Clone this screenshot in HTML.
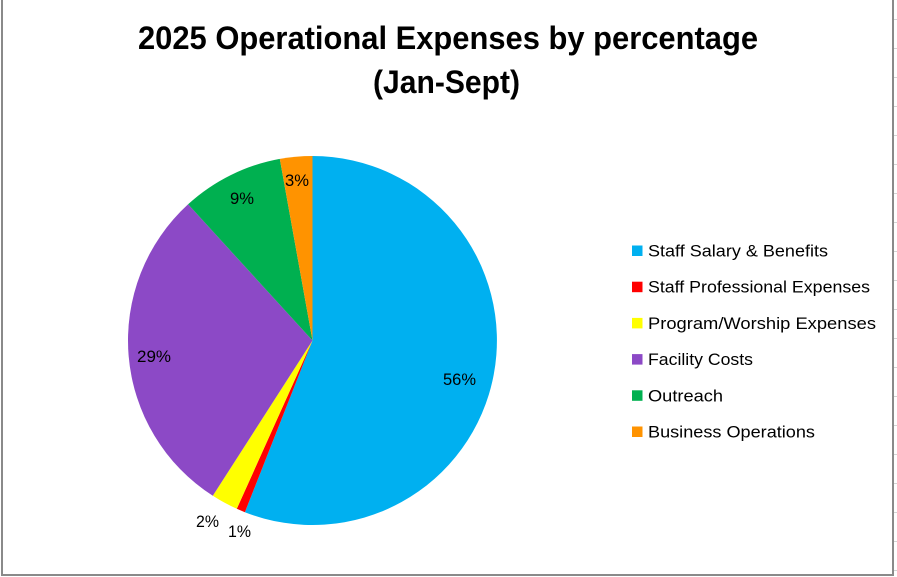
<!DOCTYPE html>
<html>
<head>
<meta charset="utf-8">
<style>
  html, body { margin: 0; padding: 0; background: #ffffff; }
  body { width: 897px; height: 577px; overflow: hidden; }
  svg { display: block; }
  text { font-family: "Liberation Sans", "DejaVu Sans", sans-serif; fill: #000; }
</style>
</head>
<body>
<svg width="897" height="577" viewBox="0 0 897 577" xmlns="http://www.w3.org/2000/svg">
  <rect x="0" y="0" width="897" height="577" fill="#ffffff"/>

  <!-- spreadsheet grid ticks outside right border -->
  <g stroke="#d4d4d4" stroke-width="1">
    <line x1="894" y1="19.5" x2="897" y2="19.5"/>
    <line x1="894" y1="48.5" x2="897" y2="48.5"/>
    <line x1="894" y1="77.5" x2="897" y2="77.5"/>
    <line x1="894" y1="106.5" x2="897" y2="106.5"/>
    <line x1="894" y1="135.5" x2="897" y2="135.5"/>
    <line x1="894" y1="164.5" x2="897" y2="164.5"/>
    <line x1="894" y1="193.5" x2="897" y2="193.5"/>
    <line x1="894" y1="222.5" x2="897" y2="222.5"/>
    <line x1="894" y1="251.5" x2="897" y2="251.5"/>
    <line x1="894" y1="280.5" x2="897" y2="280.5"/>
    <line x1="894" y1="309.5" x2="897" y2="309.5"/>
    <line x1="894" y1="338.5" x2="897" y2="338.5"/>
    <line x1="894" y1="367.5" x2="897" y2="367.5"/>
    <line x1="894" y1="396.5" x2="897" y2="396.5"/>
    <line x1="894" y1="425.5" x2="897" y2="425.5"/>
    <line x1="894" y1="454.5" x2="897" y2="454.5"/>
    <line x1="894" y1="483.5" x2="897" y2="483.5"/>
    <line x1="894" y1="512.5" x2="897" y2="512.5"/>
    <line x1="894" y1="541.5" x2="897" y2="541.5"/>
    <line x1="894" y1="570.5" x2="897" y2="570.5"/>
  </g>

  <!-- chart border -->
  <rect x="1" y="0" width="2" height="576" fill="#8a8a8a"/>
  <rect x="892" y="0" width="2" height="576" fill="#8a8a8a"/>
  <rect x="1" y="574" width="893" height="2" fill="#8a8a8a"/>

  <!-- Title -->
  <text x="138" y="49" font-size="32" font-weight="bold" textLength="620" lengthAdjust="spacingAndGlyphs">2025 Operational Expenses by percentage</text>
  <text x="373" y="93" font-size="32" font-weight="bold" textLength="147" lengthAdjust="spacingAndGlyphs">(Jan-Sept)</text>

  <!-- Pie: center (312.5, 340.5), r = 184.5 -->
  <!-- Blue 0 -> 201.5 -->
  <path d="M312.5,340.5 L312.5,156 A184.5,184.5 0 1,1 244.9,512.2 Z" fill="#00B0F0"/>
  <!-- Red 201.5 -> 204.2 -->
  <path d="M312.5,340.5 L244.9,512.2 A184.5,184.5 0 0,1 236.8,508.8 Z" fill="#FF0000"/>
  <!-- Yellow 204.2 -> 212.7 -->
  <path d="M312.5,340.5 L236.8,508.8 A184.5,184.5 0 0,1 212.8,495.8 Z" fill="#FFFF00"/>
  <!-- Purple 212.7 -> 317.6 -->
  <path d="M312.5,340.5 L212.8,495.8 A184.5,184.5 0 0,1 188.1,204.3 Z" fill="#8C49C6"/>
  <!-- Green 317.6 -> 349.8 -->
  <path d="M312.5,340.5 L188.1,204.3 A184.5,184.5 0 0,1 279.8,158.9 Z" fill="#00B050"/>
  <!-- Orange 349.8 -> 360 -->
  <path d="M312.5,340.5 L279.8,158.9 A184.5,184.5 0 0,1 312.5,156 Z" fill="#FF9300"/>

  <!-- Data labels -->
  <g font-size="16.5">
    <text x="443" y="385" textLength="33" lengthAdjust="spacingAndGlyphs">56%</text>
    <text x="137" y="362" textLength="34" lengthAdjust="spacingAndGlyphs">29%</text>
    <text x="230" y="204" textLength="24" lengthAdjust="spacingAndGlyphs">9%</text>
    <text x="285" y="186" textLength="24" lengthAdjust="spacingAndGlyphs">3%</text>
    <text x="196" y="527" textLength="23" lengthAdjust="spacingAndGlyphs">2%</text>
    <text x="228" y="537" textLength="23" lengthAdjust="spacingAndGlyphs">1%</text>
  </g>

  <!-- Legend -->
  <rect x="632" y="245.5" width="10.5" height="10.5" fill="#00B0F0"/>
  <rect x="632" y="281.7" width="10.5" height="10.5" fill="#FF0000"/>
  <rect x="632" y="317.9" width="10.5" height="10.5" fill="#FFFF00"/>
  <rect x="632" y="354.1" width="10.5" height="10.5" fill="#8C49C6"/>
  <rect x="632" y="390.3" width="10.5" height="10.5" fill="#00B050"/>
  <rect x="632" y="426.5" width="10.5" height="10.5" fill="#FF9300"/>
  <g font-size="17">
    <text x="648" y="256.5" textLength="180" lengthAdjust="spacingAndGlyphs">Staff Salary &amp; Benefits</text>
    <text x="648" y="292.7" textLength="222" lengthAdjust="spacingAndGlyphs">Staff Professional Expenses</text>
    <text x="648" y="328.9" textLength="228" lengthAdjust="spacingAndGlyphs">Program/Worship Expenses</text>
    <text x="648" y="365.1" textLength="105" lengthAdjust="spacingAndGlyphs">Facility Costs</text>
    <text x="648" y="401.3" textLength="75" lengthAdjust="spacingAndGlyphs">Outreach</text>
    <text x="648" y="437.5" textLength="167" lengthAdjust="spacingAndGlyphs">Business Operations</text>
  </g>
</svg>
</body>
</html>
